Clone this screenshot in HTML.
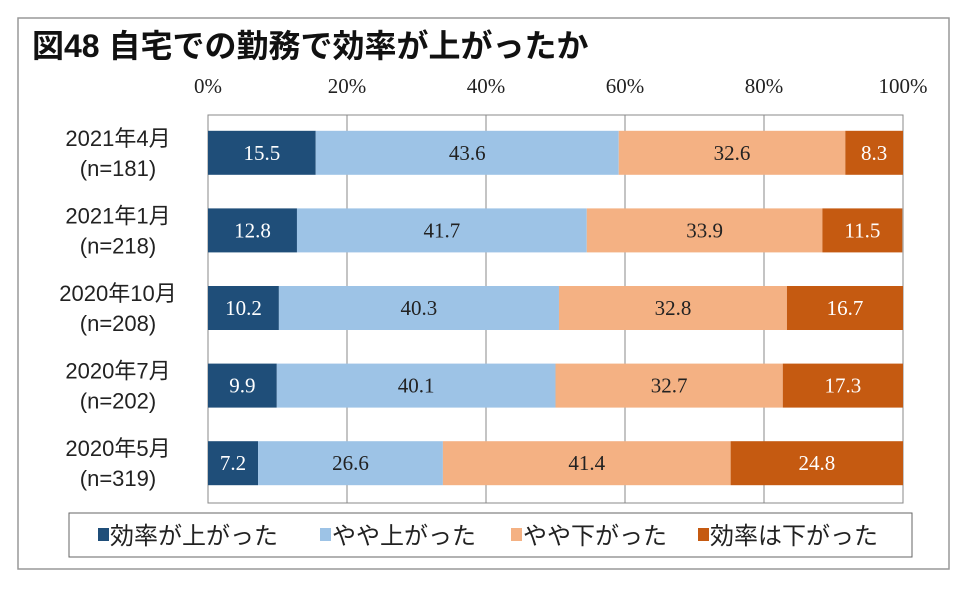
<!DOCTYPE html>
<html><head><meta charset="utf-8"><style>
body{margin:0;background:#fff;width:960px;height:584px;overflow:hidden}
text{font-family:"Liberation Sans","Noto Sans CJK JP",sans-serif}
.serif{font-family:"Liberation Serif","Noto Serif CJK SC",serif}
</style></head><body>
<svg id="c" width="960" height="584" xmlns="http://www.w3.org/2000/svg">
<rect x="18" y="18" width="931" height="551" fill="#fff" stroke="#999" stroke-width="1.5"/>
<text x="32" y="57" font-size="32" font-weight="bold" fill="#111">図48 自宅での勤務で効率が上がったか</text>
<g id="g"></g>
</svg>
<script>
const categories=["2021年4月","2021年1月","2020年10月","2020年7月","2020年5月"];
const sampleSizes=["(n=181)","(n=218)","(n=208)","(n=202)","(n=319)"];
const seriesNames=["効率が上がった","やや上がった","やや下がった","効率は下がった"];
const s1=[15.5,12.8,10.2,9.9,7.2];
const s2=[43.6,41.7,40.3,40.1,26.6];
const s3=[32.6,33.9,32.8,32.7,41.4];
const s4=[8.3,11.5,16.7,17.3,24.8];
const ticks=[0,20,40,60,80,100];
const series=[s1,s2,s3,s4];
const colors=["#1f4e79","#9dc3e6","#f4b183","#c55a11"];
const txtCol=["#fff","#222","#222","#fff"];
const ns="http://www.w3.org/2000/svg",g=document.getElementById('g');
const X0=208,X1=903,Y0=115,Y1=503;
const x=v=>X0+(X1-X0)*v/100;
const rowH=(Y1-Y0)/categories.length, barH=44;
const yc=i=>Y0+rowH*(i+0.5)-1;
function el(t,a,txt){const e=document.createElementNS(ns,t);for(const k in a)e.setAttribute(k,a[k]);if(txt!=null)e.textContent=txt;g.appendChild(e);return e;}
let e=el('rect',{x:X0,y:Y0,width:X1-X0,height:Y1-Y0,fill:'#fff',stroke:'#888'});


ticks.forEach(t=>{
 let l=el('line',{x1:x(t),x2:x(t),y1:Y0,y2:Y1,stroke:'#888'});
 
 
 let tx=el('text',{x:x(t),y:93,'text-anchor':'middle','font-size':21,fill:'#222',class:'serif'},t+'%');
 
 
});
categories.forEach((c,i)=>{
 let cy=yc(i),acc=0;
 series.forEach((s,k)=>{
  const v=s[i];
  let r=el('rect',{x:x(acc),y:cy-barH/2,width:x(acc+v)-x(acc),height:barH,fill:colors[k]});
  
  
  let t=el('text',{x:(x(acc)+x(acc+v))/2,y:cy+7,'text-anchor':'middle','font-size':21,fill:txtCol[k],class:'serif'},v.toFixed(1));
  
  
  acc+=v;
 });
 let a=el('text',{x:118,y:cy-7,'text-anchor':'middle','font-size':22,fill:'#222'},c);
 
 
 let b=el('text',{x:118,y:cy+23,'text-anchor':'middle','font-size':22,fill:'#222'},sampleSizes[i]);
 
 
});
let lg=el('rect',{x:69,y:513,width:843,height:44,fill:'#fff',stroke:'#666'});


const lx=[98,320,511,698];
seriesNames.forEach((n,k)=>{
 let s=el('rect',{x:lx[k],y:528,width:11,height:13,fill:colors[k]});
 
 
 let t=el('text',{x:lx[k]+12,y:544,'font-size':24,fill:'#222'},n);
 
 
});
</script>
</body></html>
